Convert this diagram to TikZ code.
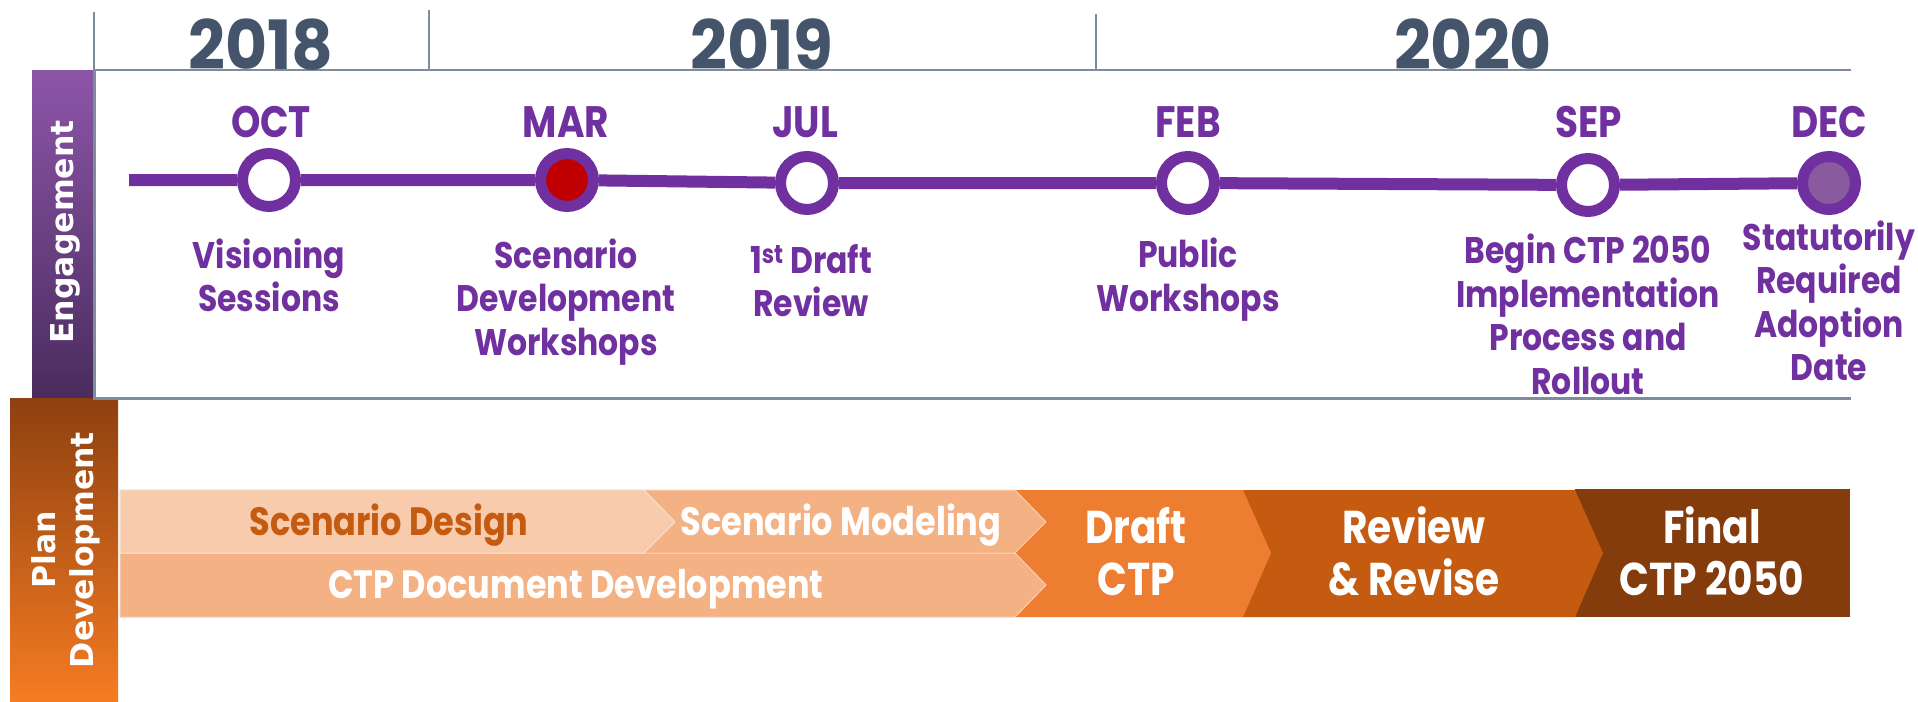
\documentclass[tikz,border=0pt]{standalone}
\usepackage{fontspec}
\newfontfamily\cg{Poppins}[FakeStretch=0.85]
\newfontfamily\cgw{Poppins}[FakeStretch=0.95]
\newfontfamily\dv{DejaVu Sans}
\definecolor{tlpurple}{HTML}{7030A0}
\definecolor{yeargray}{HTML}{44546A}
\definecolor{axisgray}{HTML}{7F8C9D}
\definecolor{decfill}{HTML}{8A5A9F}
\definecolor{marfill}{HTML}{C00000}
\definecolor{chA}{HTML}{F8CBAD}
\definecolor{chB}{HTML}{F4B183}
\definecolor{chC}{HTML}{ED7D31}
\definecolor{chD}{HTML}{C55A11}
\definecolor{chE}{HTML}{843C0C}
\definecolor{engtop}{HTML}{8C55A8}
\definecolor{engbot}{HTML}{4A2C5E}
\definecolor{pdtop}{HTML}{8E4010}
\definecolor{pdbot}{HTML}{F57C22}
\begin{document}
\begin{tikzpicture}[x=1pt,y=-1pt,
  axis/.style={draw=axisgray, line width=2.2},
  tl/.style={draw=tlpurple, line width=12},
  ms/.style={circle, draw=tlpurple, line width=11, minimum size=53, inner sep=0, fill=white},
  month/.style={font=\cg\bfseries\fontsize{44}{50}\selectfont, text=tlpurple, anchor=base, inner sep=0},
  desc/.style={font=\cg\bfseries\fontsize{37}{43.5}\selectfont, text=tlpurple, align=center, anchor=base, inner sep=0},
  year/.style={font=\cgw\bfseries\fontsize{68}{70}\selectfont, text=yeargray, anchor=base, inner sep=0},
  chev/.style={font=\cg\bfseries\fontsize{39.5}{44}\selectfont, text=white, anchor=base, inner sep=0},
  big/.style={font=\cg\bfseries\fontsize{46}{52}\selectfont, text=white, align=center, anchor=base, inner sep=0},
  side/.style={font=\dv\bfseries\fontsize{31.5}{38}\selectfont, text=white, align=center, rotate=90, inner sep=0},
]
\useasboundingbox (0,0) rectangle (1918,701);
\fill[white] (0,0) rectangle (1918,701);

% side bars
\shade[top color=engtop, bottom color=engbot] (32,70) rectangle (94,398);
\shade[top color=pdtop, bottom color=pdbot] (10,398) rectangle (118,701);
\node[side] (eng) at (65,232) {Engagement};
\node[side] (pd) at (66,550) {Plan\\Development};

% year header and panel
\coordinate (v1t) at (94,12);
\coordinate (hl) at (94,70);
\coordinate (hr) at (1851,70);
\coordinate (v2t) at (429,10);
\coordinate (v2b) at (429,70);
\coordinate (v3t) at (1096,14);
\coordinate (v3b) at (1096,70);
\coordinate (pbl) at (94,398);
\coordinate (pbr) at (1851,398);
\draw[axis] (v1t) -- (hl) -- (hr);
\draw[axis] (v2t) -- (v2b);
\draw[axis] (v3t) -- (v3b);
\draw[axis, line width=3] (hl) -- (pbl) -- (pbr);

\node[year] (y2018) at (261,70) {2018};
\node[year] (y2019) at (762,70) {2019};
\node[year] (y2020) at (1473,70) {2020};

% timeline
\coordinate (tstart) at (129,180);
\node[ms] (oct) at (269,180) {};
\node[ms, fill=marfill] (mar) at (567,180) {};
\node[ms] (jul) at (807,183) {};
\node[ms] (feb) at (1188,183) {};
\node[ms] (sep) at (1588,185) {};
\node[ms, fill=decfill] (dec) at (1829,183) {};
\draw[tl] (tstart) -- (oct) -- (mar) -- (jul) -- (feb) -- (sep) -- (dec);

\node[month] (moct) at (271,137) {OCT};
\node[month] (mmar) at (566,137) {MAR};
\node[month] (mjul) at (805,137) {JUL};
\node[month] (mfeb) at (1188,137) {FEB};
\node[month] (msep) at (1589,137) {SEP};
\node[month] (mdec) at (1829,137) {DEC};

% descriptions (anchor = baseline of last line)
\node[desc] (dvis) at (269,311.5) {Visioning\\Sessions};
\node[desc] (dsdw) at (566,355) {Scenario\\Development\\Workshops};
\node[desc] (dfdr) at (811,316.5) {1\textsuperscript{st} Draft\\Review};
\node[desc] (dpw) at (1188,311) {Public\\Workshops};
\node[desc] (dbeg) at (1588,394) {Begin CTP 2050\\Implementation\\Process and\\Rollout};
\node[desc] (dstat) at (1829,380.5) {Statutorily\\Required\\Adoption\\Date};

% chevrons
\fill[chE] (1575,489) rectangle (1850,617);
\fill[chD] (1243,490) -- (1575,490) -- (1603,553) -- (1575,617) -- (1243,617) -- cycle;
\fill[chC] (1015,490) -- (1243,490) -- (1271,553) -- (1243,617) -- (1015,617) -- cycle;
\filldraw[fill=chB, draw=white!40!chB, line width=1] (120,553) -- (1015,553) -- (1046,585) -- (1015,617) -- (120,617) -- cycle;
\filldraw[fill=chB, draw=white!40!chB, line width=1] (120,490) -- (1015,490) -- (1046,522) -- (1015,553) -- (120,553) -- cycle;
\filldraw[fill=chA, draw=white!40!chA, line width=1] (120,490) -- (644,490) -- (675,522) -- (644,553) -- (120,553) -- cycle;

\node[chev, text=chD] (tsd) at (389,535) {Scenario Design};
\node[chev] (tsm) at (841,535) {Scenario Modeling};
\node[chev] (tctp) at (576,598) {CTP Document Development};
\node[big] (tdraft) at (1136,595) {Draft\\CTP};
\node[big] (treview) at (1414,595) {Review\\\& Revise};
\node[big] (tfinal) at (1712,595) {Final\\CTP 2050};
\end{tikzpicture}
\end{document}
